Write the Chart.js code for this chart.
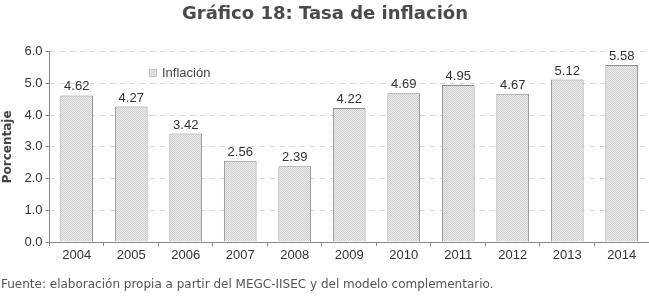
<!DOCTYPE html>
<html>
<head>
<meta charset="utf-8">
<script src="https://cdn.jsdelivr.net/npm/chart.js@4"></script>
<style>
  html, body { margin: 0; padding: 0; background: #fff; }
  #wrap { width: 649px; height: 296px; }
</style>
</head>
<body>
<div id="wrap"><canvas id="inflacion"></canvas></div>
<script>
const years = ['2004', '2005', '2006', '2007', '2008', '2009', '2010', '2011', '2012', '2013', '2014'];
const inflacion = [4.62, 4.27, 3.42, 2.56, 2.39, 4.22, 4.69, 4.95, 4.67, 5.12, 5.58];
const yTicks = [0, 1, 2, 3, 4, 5, 6];

// motif pointillé gris des barres (damier fin)
function makePattern() {
    const c = document.createElement('canvas');
    c.width = 2; c.height = 2;
    const p = c.getContext('2d');
    p.fillStyle = '#ececec';
    p.fillRect(0, 0, 2, 2);
    p.fillStyle = '#cfcfcf';
    p.fillRect(0, 0, 1, 1);
    p.fillRect(1, 1, 1, 1);
    return p.createPattern(c, 'repeat');
}
const barFill = makePattern();

// étiquettes au-dessus des barres + légende dans la zone du graphe
const extras = {
    id: 'extras',
    afterDatasetsDraw(chart) {
        const ctx = chart.ctx;
        const meta = chart.getDatasetMeta(0);
        ctx.save();
        ctx.font = '13px "Liberation Sans", Arial, sans-serif';
        ctx.fillStyle = '#333';
        ctx.textAlign = 'center';
        ctx.textBaseline = 'bottom';
        meta.data.forEach((bar, i) => {
            ctx.fillText(inflacion[i].toFixed(2), bar.x, bar.y - 2);
        });
        // légende
        const lx = 149, ly = 73;
        ctx.fillStyle = barFill;
        ctx.fillRect(lx, ly - 4, 8, 8);
        ctx.strokeStyle = '#c4c4c4';
        ctx.lineWidth = 1;
        ctx.strokeRect(lx + 0.5, ly - 3.5, 7, 7);
        ctx.fillStyle = '#444';
        ctx.textAlign = 'left';
        ctx.textBaseline = 'middle';
        ctx.fillText(chart.data.datasets[0].label, lx + 13, ly);
        ctx.restore();
    }
};

new Chart(document.getElementById('inflacion'), {
    type: 'bar',
    data: {
        labels: years,
        datasets: [{
            label: 'Inflación',
            data: inflacion,
            backgroundColor: barFill,
            borderColor: '#8a8a8a',
            borderWidth: 1,
            borderSkipped: 'bottom',
            categoryPercentage: 1,
            barPercentage: 0.6
        }]
    },
    options: {
        responsive: true,
        maintainAspectRatio: false,
        animation: false,
        layout: { padding: { left: 1, right: 0, top: 0, bottom: 0 } },
        plugins: {
            legend: { display: false },
            tooltip: { enabled: false },
            title: {
                display: true,
                text: 'Gráfico 18: Tasa de inflación',
                color: '#4a4a4a',
                font: { family: '"DejaVu Sans", sans-serif', size: 18, weight: 'bold' },
                padding: { top: 4, bottom: 26 }
            },
            subtitle: {
                display: true,
                position: 'bottom',
                align: 'start',
                text: 'Fuente: elaboración propia a partir del MEGC-IISEC y del modelo complementario.',
                color: '#555',
                font: { family: '"DejaVu Sans", sans-serif', size: 12 },
                padding: { top: 12, bottom: 4 }
            }
        },
        scales: {
            x: {
                offset: true,
                grid: {
                    offset: true,
                    drawOnChartArea: false,
                    drawTicks: true,
                    tickLength: 4,
                    tickColor: '#888'
                },
                border: { color: '#888' },
                ticks: {
                    color: '#333',
                    padding: 2,
                    font: { family: '"Liberation Sans", Arial, sans-serif', size: 13 }
                }
            },
            y: {
                min: 0,
                max: 6,
                afterBuildTicks(axis) {
                    axis.ticks = yTicks.map(v => ({ value: v }));
                },
                grid: {
                    color: '#d8d8d8',
                    tickColor: '#888',
                    tickLength: 4
                },
                border: { color: '#888', dash: [5, 5] },
                ticks: {
                    color: '#333',
                    padding: 3,
                    font: { family: '"Liberation Sans", Arial, sans-serif', size: 13 },
                    callback: v => v.toFixed(1)
                },
                title: {
                    display: true,
                    text: 'Porcentaje',
                    color: '#444',
                    padding: { top: 0, bottom: 6 },
                    font: { family: '"DejaVu Sans", sans-serif', size: 12, weight: 'bold' }
                }
            }
        }
    },
    plugins: [extras]
});
</script>
</body>
</html>
